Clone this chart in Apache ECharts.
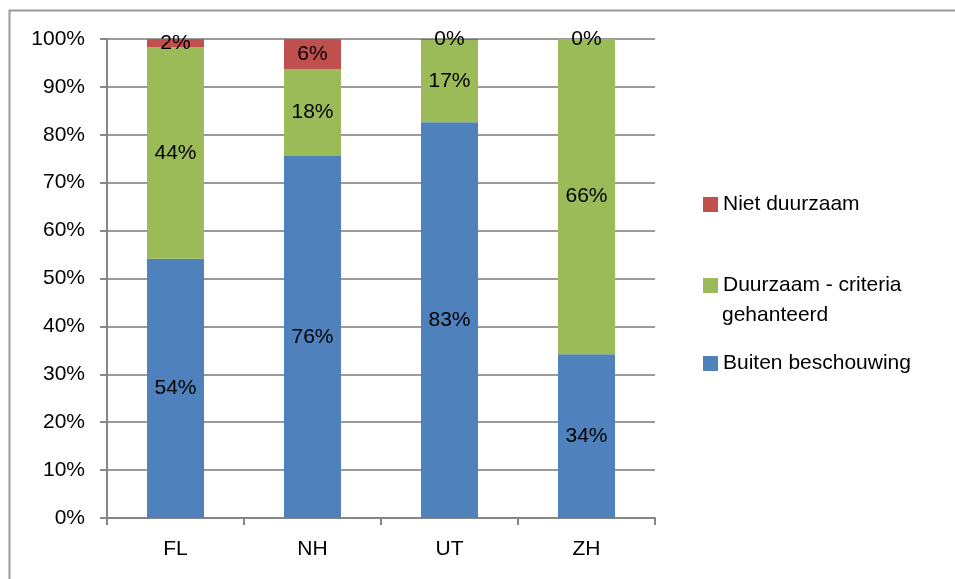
<!DOCTYPE html>
<html>
<head>
<meta charset="utf-8">
<script src="https://cdn.jsdelivr.net/npm/echarts@6/dist/echarts.min.js"></script>
<style>
  html, body { margin: 0; padding: 0; background: #fff; }
  #chart { width: 955px; height: 579px; }
</style>
</head>
<body>
<div id="chart"></div>
<script>
const categories = ['FL', 'NH', 'UT', 'ZH']
const buiten = [54.1, 75.6, 82.6, 34.2]
const duurzaam = [44.2, 18.1, 17.2, 65.8]
const niet = [1.7, 6.3, 0.2, 0]
const yTicks = [0, 10, 20, 30, 40, 50, 60, 70, 80, 90, 100]

const font = 'Liberation Sans'
const fs = 21
const pct = p => Math.round(p.value) + '%'

const barLabel = {
  show: true,
  position: 'inside',
  color: '#000',
  fontFamily: font,
  fontSize: fs,
  formatter: pct
}

const legendText = { fontSize: fs, color: '#000', fontFamily: font }

let chart = echarts.init(document.getElementById('chart'))

let option = {
  animation: false,
  textStyle: { fontFamily: font },
  graphic: [
    {
      type: 'rect',
      shape: { x: 9.5, y: 10.5, width: 1000, height: 700 },
      style: { fill: 'none', stroke: '#9a9a9a', lineWidth: 2 },
      silent: true,
      z: -1
    },
    {
      type: 'text',
      left: 722, top: 305,
      style: { text: 'gehanteerd', fill: '#000', font: fs + 'px ' + font }
    }
  ],
  grid: { left: 107, right: 300, top: 39, bottom: 61 },
  legend: [
    {
      orient: 'vertical', left: 698, top: 189, itemWidth: 15, itemHeight: 15,
      textStyle: legendText,
      data: [{ name: 'Niet duurzaam', icon: 'rect' }]
    },
    {
      orient: 'vertical', left: 698, top: 270, itemWidth: 15, itemHeight: 15,
      textStyle: legendText,
      formatter: () => 'Duurzaam - criteria',
      data: [{ name: 'Duurzaam - criteria gehanteerd', icon: 'rect' }]
    },
    {
      orient: 'vertical', left: 698, top: 348, itemWidth: 15, itemHeight: 15,
      textStyle: legendText,
      data: [{ name: 'Buiten beschouwing', icon: 'rect' }]
    }
  ],
  xAxis: {
    type: 'category',
    data: categories,
    axisLine: { lineStyle: { color: '#868686', width: 2 } },
    axisTick: { show: true, length: 7, lineStyle: { color: '#868686', width: 2 } },
    axisLabel: { color: '#000', fontSize: fs, fontFamily: font, margin: 21 }
  },
  yAxis: {
    type: 'value',
    min: 0,
    max: 100,
    interval: 10,
    axisLine: { show: true, lineStyle: { color: '#868686', width: 2 } },
    axisTick: { show: true, length: 7, lineStyle: { color: '#868686', width: 2 } },
    splitLine: { lineStyle: { color: '#9a9a9a', width: 2 } },
    axisLabel: {
      color: '#000', fontSize: fs, fontFamily: font, margin: 22,
      formatter: v => (yTicks.includes(v) ? v + '%' : '')
    }
  },
  series: [
    {
      name: 'Buiten beschouwing', type: 'bar', stack: 'total', barWidth: 57,
      itemStyle: { color: '#4F81BD' }, label: barLabel, data: buiten
    },
    {
      name: 'Duurzaam - criteria gehanteerd', type: 'bar', stack: 'total', barWidth: 57,
      itemStyle: { color: '#9BBB59' }, label: barLabel, data: duurzaam
    },
    {
      name: 'Niet duurzaam', type: 'bar', stack: 'total', barWidth: 57,
      itemStyle: { color: '#C0504D' }, label: barLabel, data: niet
    }
  ]
}

chart.setOption(option)
</script>
</body>
</html>
